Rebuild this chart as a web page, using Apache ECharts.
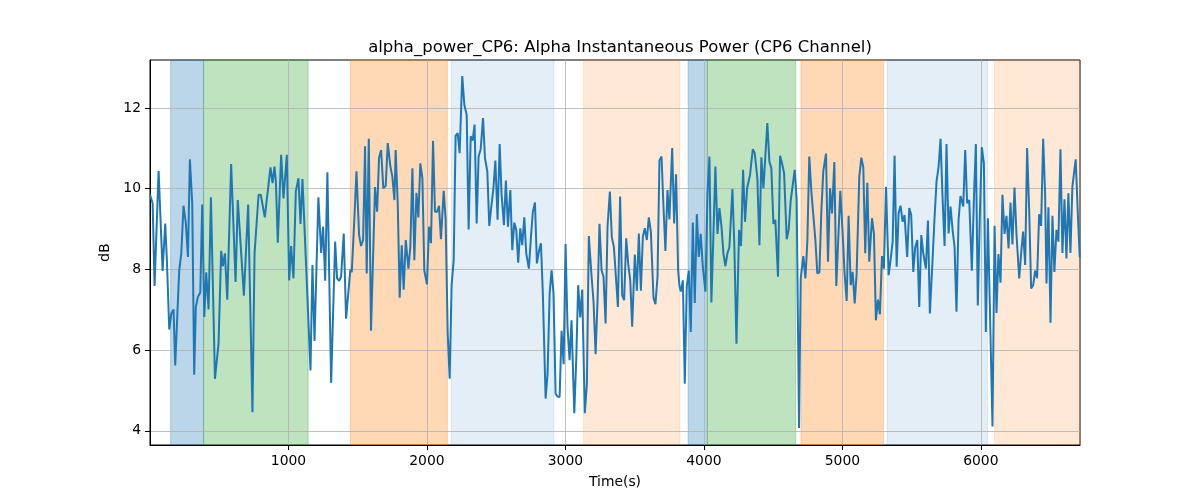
<!DOCTYPE html>
<html>
<head>
<meta charset="utf-8">
<script src="https://cdn.jsdelivr.net/npm/echarts@6/dist/echarts.min.js"></script>
<style>
  html, body { margin: 0; padding: 0; background: #fff; }
  #chart { width: 1200px; height: 500px; }
</style>
</head>
<body>
<div id="chart"></div>
<script>
// time stamps (s) and alpha power (dB)
const times = [
  0, 19, 33, 62, 91, 110, 122, 139, 154, 170, 182, 211, 226, 242, 259, 274, 288, 305, 319, 331,
  346, 363, 377, 392, 406, 423, 440, 469, 495, 514, 526, 541, 558, 586, 618, 634, 678, 709, 740, 755,
  784, 800, 829, 870, 885, 899, 909, 923, 947, 964, 988, 1005, 1019, 1036, 1053, 1072, 1087, 1101, 1115, 1159,
  1173, 1188, 1216, 1236, 1250, 1265, 1281, 1308, 1337, 1351, 1366, 1380, 1399, 1416, 1447, 1457, 1476, 1491, 1510, 1524,
  1539, 1553, 1565, 1580, 1596, 1625, 1640, 1654, 1669, 1685, 1702, 1717, 1736, 1750, 1765, 1774, 1789, 1803, 1818, 1832,
  1847, 1866, 1880, 1895, 1909, 1924, 1938, 1952, 1967, 1981, 2000, 2015, 2029, 2044, 2058, 2073, 2087, 2101, 2121, 2135,
  2150, 2164, 2178, 2193, 2207, 2222, 2236, 2255, 2270, 2287, 2301, 2316, 2330, 2344, 2359, 2373, 2388, 2405, 2419, 2436,
  2450, 2465, 2479, 2494, 2510, 2525, 2539, 2556, 2570, 2585, 2602, 2616, 2631, 2645, 2659, 2674, 2688, 2703, 2717, 2736,
  2751, 2765, 2780, 2794, 2809, 2823, 2837, 2857, 2871, 2886, 2900, 2914, 2929, 2943, 2958, 2972, 2987, 3001, 3015, 3030,
  3044, 3064, 3078, 3092, 3107, 3121, 3140, 3155, 3169, 3189, 3203, 3218, 3232, 3246, 3261, 3275, 3290, 3304, 3321, 3335,
  3350, 3364, 3379, 3395, 3410, 3424, 3439, 3453, 3468, 3482, 3501, 3516, 3530, 3545, 3559, 3573, 3588, 3602, 3617, 3636,
  3650, 3665, 3679, 3694, 3708, 3722, 3737, 3751, 3771, 3785, 3799, 3814, 3823, 3833, 3848, 3862, 3876, 3891, 3905, 3920,
  3934, 3949, 3963, 3977, 3992, 4011, 4026, 4040, 4054, 4069, 4083, 4098, 4112, 4127, 4141, 4155, 4170, 4184, 4206, 4220,
  4235, 4254, 4268, 4283, 4297, 4312, 4333, 4353, 4367, 4386, 4401, 4415, 4430, 4444, 4458, 4473, 4487, 4502, 4516, 4535,
  4550, 4564, 4579, 4598, 4612, 4627, 4641, 4656, 4670, 4687, 4699, 4718, 4733, 4747, 4761, 4776, 4790, 4805, 4819, 4834,
  4848, 4862, 4882, 4896, 4911, 4925, 4942, 4956, 4985, 5002, 5016, 5031, 5045, 5060, 5074, 5089, 5103, 5122, 5137, 5151,
  5165, 5180, 5194, 5214, 5228, 5242, 5257, 5271, 5286, 5300, 5315, 5334, 5348, 5363, 5377, 5392, 5406, 5420, 5435, 5449,
  5468, 5483, 5497, 5512, 5526, 5541, 5555, 5570, 5584, 5603, 5618, 5632, 5651, 5666, 5680, 5695, 5709, 5723, 5738, 5752,
  5767, 5781, 5796, 5810, 5824, 5839, 5853, 5873, 5887, 5901, 5916, 5935, 5950, 5964, 5978, 5993, 6007, 6022, 6036, 6051,
  6084, 6099, 6113, 6127, 6142, 6156, 6171, 6185, 6200, 6214, 6228, 6243, 6257, 6277, 6291, 6305, 6320, 6334, 6349, 6363,
  6378, 6392, 6406, 6421, 6435, 6450, 6464, 6474, 6488, 6503, 6517, 6531, 6546, 6560, 6575, 6589, 6604, 6618, 6632, 6647,
  6661, 6685, 6700, 6714
];
const power = [
  9.85, 9.64, 7.59, 10.44, 7.96, 9.14, 8.23, 6.51, 6.91, 7.01, 5.62, 7.98, 8.40, 9.58, 9.14, 8.31, 10.73, 9.64, 5.39, 7.07,
  7.32, 7.43, 9.61, 6.82, 7.93, 7.01, 9.79, 5.29, 6.16, 8.46, 8.08, 8.40, 7.25, 10.61, 7.69, 9.72, 7.35, 9.61, 4.46, 8.40,
  9.85, 9.85, 9.29, 10.53, 10.14, 10.55, 10.18, 8.66, 10.84, 9.76, 10.84, 7.73, 8.58, 7.78, 9.93, 10.26, 9.13, 10.24, 10.22, 5.50,
  8.11, 6.23, 9.79, 8.41, 9.06, 7.72, 10.41, 5.19, 8.69, 7.78, 7.72, 7.82, 8.89, 6.78, 8.00, 7.93, 9.27, 10.43, 8.85, 8.58,
  8.73, 11.05, 7.90, 11.24, 6.48, 10.04, 9.43, 10.76, 10.96, 10.01, 10.07, 11.13, 10.55, 10.30, 9.72, 10.96, 9.64, 7.30, 8.60, 7.50,
  8.73, 8.02, 8.56, 10.51, 8.23, 9.90, 9.29, 10.63, 10.26, 7.97, 7.63, 9.06, 8.65, 11.19, 9.43, 9.43, 9.58, 8.75, 9.95, 9.24,
  6.41, 5.29, 7.61, 8.23, 11.31, 11.38, 10.88, 12.79, 12.08, 11.83, 8.99, 11.30, 11.19, 11.59, 9.14, 10.80, 10.98, 11.75, 10.76, 10.43,
  9.08, 9.56, 9.97, 10.70, 9.23, 11.11, 9.85, 9.10, 10.20, 9.06, 9.97, 8.48, 9.16, 8.98, 8.17, 9.02, 8.60, 9.29, 8.40, 8.02,
  8.81, 9.43, 9.66, 8.15, 8.46, 8.65, 7.40, 4.80, 5.42, 7.40, 7.98, 7.40, 4.92, 4.85, 4.84, 6.48, 5.65, 8.63, 6.58, 5.75,
  6.74, 4.44, 5.75, 7.61, 6.81, 7.50, 4.44, 5.17, 8.83, 7.82, 7.20, 5.90, 7.24, 9.13, 7.98, 7.82, 6.66, 9.06, 9.93, 8.80,
  8.56, 8.56, 7.07, 9.81, 7.36, 7.24, 8.77, 8.15, 7.73, 6.58, 8.37, 7.47, 8.89, 7.47, 8.81, 9.02, 8.73, 9.29, 8.94, 7.30,
  7.14, 7.82, 10.70, 10.80, 9.56, 8.46, 9.97, 9.24, 11.01, 9.14, 10.36, 7.98, 7.61, 7.45, 7.73, 5.17, 7.57, 7.97, 6.45, 9.16,
  7.17, 9.37, 8.31, 8.88, 8.07, 7.45, 9.89, 10.80, 7.18, 8.89, 10.55, 8.88, 9.52, 9.06, 8.40, 8.08, 8.40, 8.55, 9.99, 8.56,
  6.16, 8.98, 8.58, 10.47, 9.18, 10.01, 10.34, 10.98, 10.88, 10.26, 8.60, 10.78, 10.01, 10.01, 11.63, 10.67, 10.51, 9.13, 9.23, 7.82,
  10.82, 10.63, 10.39, 8.75, 8.98, 9.71, 9.74, 10.47, 9.72, 4.07, 7.78, 8.33, 7.78, 8.69, 10.80, 9.93, 9.89, 8.73, 7.90, 7.93,
  9.43, 10.43, 10.87, 8.19, 10.01, 9.39, 10.66, 7.59, 9.95, 8.89, 7.90, 7.22, 9.33, 7.61, 7.94, 7.16, 7.90, 10.30, 10.77, 10.53,
  8.40, 10.15, 8.19, 9.27, 8.89, 6.74, 7.25, 6.89, 8.33, 8.02, 10.05, 7.86, 8.23, 8.69, 10.82, 8.07, 9.39, 9.58, 9.18, 9.35,
  8.31, 9.52, 9.35, 7.94, 8.55, 8.73, 7.07, 8.85, 8.40, 8.02, 9.21, 6.91, 8.23, 9.31, 10.18, 10.55, 11.24, 9.81, 8.58, 11.11,
  8.89, 9.56, 8.98, 8.56, 6.95, 9.23, 9.82, 9.56, 10.96, 9.64, 9.72, 7.97, 9.76, 11.11, 7.11, 9.39, 11.03, 10.63, 6.45, 9.27,
  4.11, 9.08, 6.92, 8.38, 7.67, 9.85, 8.88, 9.33, 8.52, 9.66, 8.62, 10.03, 8.89, 7.78, 8.40, 8.94, 8.11, 11.01, 9.47, 7.53,
  7.61, 7.97, 7.78, 9.37, 9.08, 11.24, 9.89, 7.65, 9.54, 6.68, 9.33, 7.94, 8.98, 8.69, 10.98, 8.41, 9.74, 8.27, 9.89, 8.41,
  10.05, 10.73, 9.41, 8.30
];

// shaded phases (start, end in seconds) and their kind
const spanStart = [149, 387, 1447, 2176, 3131, 3886, 4025, 4701, 5322, 6099];
const spanEnd   = [387, 1142, 2147, 2917, 3826, 4025, 4663, 5298, 6048, 6716];
const spanKind  = ['blue', 'green', 'orange', 'paleBlue', 'paleOrange', 'blue', 'green', 'orange', 'paleBlue', 'paleOrange'];

const xTicks = [1000, 2000, 3000, 4000, 5000, 6000];
const yTicks = [4, 6, 8, 10, 12];

const spanColors = {
  blue: 'rgba(31,119,180,0.3)',
  green: 'rgba(44,160,44,0.3)',
  orange: 'rgba(255,127,14,0.3)',
  paleBlue: 'rgba(31,119,180,0.12)',
  paleOrange: 'rgba(255,127,14,0.17)'
};

const FONT = 'DejaVu Sans';
const chart = echarts.init(document.getElementById('chart'), null, { renderer: 'canvas' });

const areas = spanStart.map((s, i) => {
  const c = spanColors[spanKind[i]];
  return [
    { xAxis: s, itemStyle: { color: c, borderColor: c, borderWidth: 1 } },
    { xAxis: spanEnd[i] }
  ];
});

const option = {
  animation: false,
  backgroundColor: '#fff',
  title: {
    text: 'alpha_power_CP6: Alpha Instantaneous Power (CP6 Channel)',
    left: 615,
    top: 34,
    textAlign: 'center',
    textStyle: { fontFamily: FONT, fontSize: 16.5, fontWeight: 'normal', color: '#000' }
  },
  grid: {
    left: 150, right: 120, top: 60, bottom: 55,
    show: true, borderColor: '#000', borderWidth: 1, backgroundColor: 'transparent'
  },
  xAxis: {
    type: 'value',
    min: 0,
    max: 6716,
    z: 1.5,
    name: 'Time(s)',
    nameLocation: 'middle',
    nameGap: 30,
    nameTextStyle: { fontFamily: FONT, fontSize: 13.9, color: '#000' },
    axisLine: { show: true, onZero: false, lineStyle: { color: '#000', width: 1 } },
    axisTick: { show: true, length: 5, customValues: xTicks, lineStyle: { color: '#000' } },
    axisLabel: { customValues: xTicks, margin: 9, formatter: v => String(v), fontFamily: FONT, fontSize: 13.9, color: '#000' },
    splitLine: { show: true, lineStyle: { color: '#b0b0b0', width: 0.8 } }
  },
  yAxis: {
    type: 'value',
    min: 3.65,
    max: 13.19,
    z: 1.5,
    name: 'dB',
    nameLocation: 'middle',
    nameGap: 34,
    nameRotate: 90,
    nameTextStyle: { fontFamily: FONT, fontSize: 13.9, color: '#000' },
    axisLine: { show: true, onZero: false, lineStyle: { color: '#000', width: 1 } },
    axisTick: { show: true, length: 5, customValues: yTicks, lineStyle: { color: '#000' } },
    axisLabel: { customValues: yTicks, margin: 9, formatter: v => String(v), fontFamily: FONT, fontSize: 13.9, color: '#000' },
    splitLine: { show: true, lineStyle: { color: '#b0b0b0', width: 0.8 } }
  },
  series: [
    {
      type: 'line',
      z: 3,
      data: times.map((t, i) => [t, power[i]]),
      showSymbol: false,
      lineStyle: { color: '#1f77b4', width: 2 },
      itemStyle: { color: '#1f77b4' },
      markArea: { silent: true, z: 1, data: areas }
    }
  ]
};

chart.setOption(option);
</script>
</body>
</html>
